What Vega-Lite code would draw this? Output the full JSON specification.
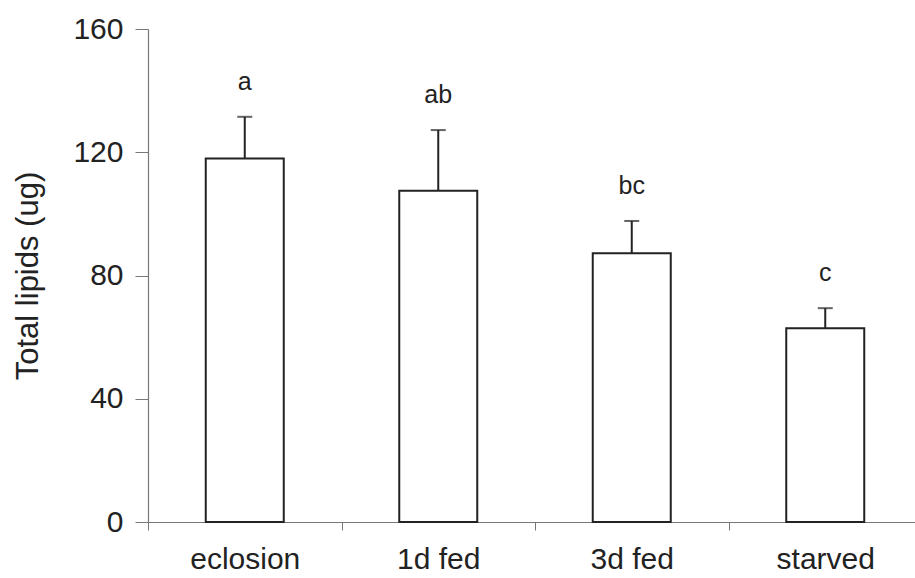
{
  "$schema": "https://vega.github.io/schema/vega-lite/v6.json",
  "width": 767,
  "height": 493,
  "autosize": {"type": "none"},
  "padding": {"left": 148, "top": 29, "right": 0, "bottom": 56},
  "background": "white",
  "config": {
    "view": {"stroke": null},
    "font": "Liberation Sans",
    "axis": {"grid": false, "domainColor": "#777", "tickColor": "#777", "labelColor": "#222", "titleColor": "#222", "labelFont": "Liberation Sans", "titleFont": "Liberation Sans", "titleFontWeight": "normal"}
  },
  "data": {
    "values": [
      {"group": "eclosion", "mean": 118.0, "upper": 131.5, "letter": "a"},
      {"group": "1d fed", "mean": 107.5, "upper": 127.2, "letter": "ab"},
      {"group": "3d fed", "mean": 87.2, "upper": 97.7, "letter": "bc"},
      {"group": "starved", "mean": 62.9, "upper": 69.4, "letter": "c"}
    ]
  },
  "encoding": {
    "x": {
      "field": "group",
      "type": "nominal",
      "sort": null,
      "scale": {"range": [0, 774], "paddingInner": 0, "paddingOuter": 0},
      "axis": {"title": null, "labelAngle": 0, "labelFontSize": 30, "tickBand": "extent", "tickSize": 8, "labelPadding": 14, "domainWidth": 1.2}
    }
  },
  "layer": [
    {
      "mark": {"type": "rule", "stroke": "#222", "strokeWidth": 2},
      "encoding": {
        "y": {"field": "mean", "type": "quantitative"},
        "y2": {"field": "upper"}
      }
    },
    {
      "mark": {"type": "tick", "color": "#222", "thickness": 2, "size": 15},
      "encoding": {
        "y": {"field": "upper", "type": "quantitative"}
      }
    },
    {
      "mark": {"type": "bar", "fill": "white", "stroke": "#222", "strokeWidth": 2, "width": 78},
      "encoding": {
        "y": {
          "field": "mean",
          "type": "quantitative",
          "scale": {"domain": [0, 160], "nice": false},
          "axis": {"title": "Total lipids (ug)", "values": [0, 40, 80, 120, 160], "labelFontSize": 30, "titleFontSize": 31, "tickSize": 13, "labelPadding": 12, "titlePadding": 28, "domainWidth": 1.2}
        }
      }
    },
    {
      "mark": {"type": "text", "fontSize": 25, "color": "#222", "baseline": "middle", "dy": -35},
      "encoding": {
        "y": {"field": "upper", "type": "quantitative"},
        "text": {"field": "letter"}
      }
    }
  ]
}
